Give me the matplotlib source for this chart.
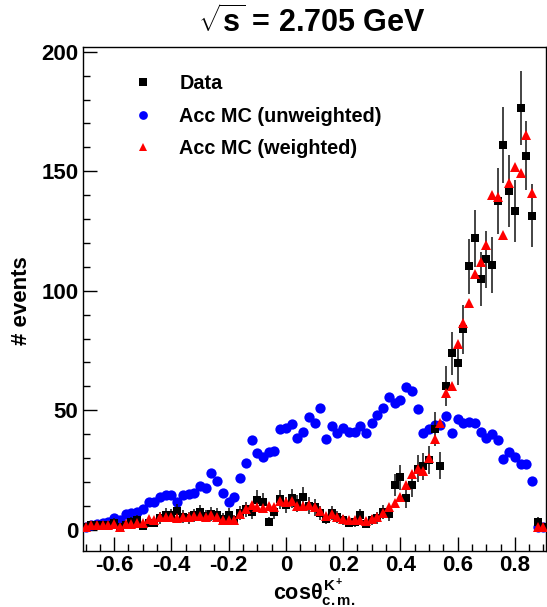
import numpy as np
import matplotlib
matplotlib.use('Agg')
import matplotlib.pyplot as plt
from matplotlib.ticker import FixedLocator, FixedFormatter, MultipleLocator

plt.rcParams['font.family'] = ['Liberation Sans', 'DejaVu Sans']
plt.rcParams['font.weight'] = 'bold'
plt.rcParams['axes.unicode_minus'] = False
plt.rcParams['mathtext.fontset'] = 'custom'
plt.rcParams['mathtext.rm'] = 'Liberation Sans:bold'
plt.rcParams['mathtext.bf'] = 'Liberation Sans:bold'
plt.rcParams['mathtext.it'] = 'Liberation Sans:bold'
plt.rcParams['mathtext.sf'] = 'Liberation Sans:bold'

# ---------------- data ----------------
bin_start = -0.70
bin_width = 0.02

data_counts = [1.0, 2.0, 2.0, 2.0, 2.0, 3.0, 1.0, 2.0, 3.4, 4.1,
               1.5, 2.9, 2.9, 4.8, 6.2, 6.1, 7.8, 5.5, 5.0, 6.0,
               7.5, 5.8, 6.5, 6.2, 4.5, 6.2, 4.0, 7.1, 8.5, 7.5,
               12.5, 11.5, 3.4, 7.3, 12.7, 10.3, 13.1, 11.0, 13.6, 10.1,
               9.3, 6.8, 4.6, 6.8, 5.4, 4.1, 2.9, 3.2, 6.0, 2.5,
               4.0, 4.8, 7.5, 6.4, 18.7, 21.9, 13.1, 18.5, 25.5, 26.5,
               29.0, 42.2, 26.7, 60.1, 73.8, 69.6, 83.8, 110.3, 121.9, 104.9,
               113.1, 110.8, 137.7, 161.0, 141.8, 133.5, 176.6, 156.5, 131.4, 3.3,
               1.0]

data_errors = [1.2, 1.6, 1.6, 1.6, 1.6, 1.9, 1.2, 1.6, 2.0, 2.2,
               1.4, 1.9, 1.9, 2.4, 2.7, 2.7, 3.1, 2.6, 2.5, 2.7,
               3.0, 2.6, 2.8, 2.7, 2.3, 2.7, 2.2, 2.9, 3.2, 3.0,
               3.9, 3.7, 2.0, 3.0, 3.9, 3.5, 4.0, 3.6, 4.1, 3.5,
               3.4, 2.9, 2.4, 2.9, 2.6, 2.2, 1.9, 2.0, 2.7, 1.7,
               2.2, 2.4, 3.0, 2.8, 4.8, 5.1, 4.0, 4.7, 5.6, 5.7,
               5.9, 7.1, 5.7, 8.5, 9.0, 9.2, 10.1, 11.5, 12.0, 11.3,
               11.8, 11.8, 13.8, 16.0, 15.0, 13.0, 15.5, 14.5, 13.3, 2.0,
               1.1]

mc_unweighted = [1.3, 2.0, 2.4, 2.9, 3.4, 5.0, 4.1, 6.4, 7.1, 7.5,
                 8.7, 11.4, 11.6, 13.8, 14.5, 14.7, 11.6, 14.5, 14.9, 15.3,
                 18.3, 17.3, 23.9, 20.5, 15.2, 11.5, 13.6, 21.5, 27.8, 37.5,
                 32.1, 30.3, 32.6, 33.1, 42.0, 42.7, 44.3, 38.2, 41.0, 47.3,
                 44.5, 50.8, 38.1, 43.4, 40.3, 42.4, 41.0, 41.0, 43.2, 40.6,
                 44.5, 48.0, 50.8, 55.4, 52.9, 54.3, 59.6, 58.2, 50.4, 40.6,
                 42.0, 43.8, 43.8, 47.6, 40.6, 46.2, 44.8, 45.2, 44.5, 41.0,
                 38.2, 40.0, 37.5, 29.6, 32.6, 30.5, 27.5, 27.5, 20.4, 1.3,
                 1.0]

mc_weighted = [1.3, 2.0, 2.0, 2.0, 2.0, 2.4, 1.3, 2.4, 2.4, 2.7,
               2.9, 4.3, 4.1, 5.4, 5.2, 5.3, 4.9, 5.3, 5.4, 5.6,
               5.7, 5.4, 6.2, 5.5, 4.2, 4.1, 4.2, 6.5, 8.6, 10.5,
               9.4, 9.0, 9.9, 9.6, 12.1, 11.5, 12.0, 9.8, 9.7, 10.5,
               9.3, 8.0, 5.6, 6.4, 5.5, 4.6, 4.2, 4.0, 4.2, 3.5,
               4.3, 5.4, 7.0, 9.6, 11.0, 13.8, 18.7, 23.3, 25.2, 24.7,
               30.2, 37.8, 44.5, 57.0, 60.1, 77.7, 86.3, 94.7, 107.0, 112.1,
               119.1, 140.0, 139.1, 123.3, 144.9, 151.9, 149.4, 165.0, 140.8, 1.3,
               1.3]

x_tick_values = [-0.6, -0.4, -0.2, 0.0, 0.2, 0.4, 0.6, 0.8]
x_tick_labels = ['-0.6', '-0.4', '-0.2', '0', '0.2', '0.4', '0.6', '0.8']
y_tick_values = [0, 50, 100, 150, 200]
y_tick_labels = ['0', '50', '100', '150', '200']

legend_labels = ['Data', 'Acc MC (unweighted)', 'Acc MC (weighted)']
title_text = r'$\sqrt{s}$ = 2.705 GeV'

x = bin_start + bin_width * np.arange(len(data_counts))

# ---------------- figure ----------------
W, H = 547, 607
fig = plt.figure(figsize=(W / 100, H / 100), dpi=100)
fig.patch.set_facecolor('white')
ax = fig.add_axes([82.7 / W, 1 - 550.7 / H, (545.5 - 82.7) / W, (550.7 - 47.0) / H])

h_blue, = ax.plot(x, mc_unweighted, 'o', color='#0000ff', ms=7.4, mew=0, zorder=2)
ax.errorbar(x, data_counts, yerr=data_errors, fmt='none', ecolor='#111111',
            elinewidth=1.1, capsize=0, zorder=3)
h_data, = ax.plot(x, data_counts, 's', color='black', ms=6.0, mew=0, zorder=4)
h_red, = ax.plot(x, mc_weighted, '^', color='#ff0000', ms=6.6, mew=0, zorder=5)

ax.set_xlim(-0.71, 0.907)
ax.set_ylim(-8.8, 202)

ax.xaxis.set_major_locator(FixedLocator(x_tick_values))
ax.xaxis.set_major_formatter(FixedFormatter(x_tick_labels))
ax.xaxis.set_minor_locator(MultipleLocator(0.05))
ax.yaxis.set_major_locator(FixedLocator(y_tick_values))
ax.yaxis.set_major_formatter(FixedFormatter(y_tick_labels))
ax.yaxis.set_minor_locator(MultipleLocator(10))

ax.tick_params(which='both', direction='in', top=False, right=False, width=1.0)
ax.tick_params(which='major', length=10)
ax.tick_params(which='minor', length=4.8)
ax.tick_params(axis='x', which='major', labelsize=16, pad=3)
ax.tick_params(axis='y', which='major', labelsize=16, pad=3)
for lab in ax.get_xticklabels() + ax.get_yticklabels():
    lab.set_fontweight('bold')
for sp in ax.spines.values():
    sp.set_linewidth(1.0)

leg = ax.legend([h_data, h_blue, h_red], legend_labels,
                loc='upper left', bbox_to_anchor=(135.5 / W, 1 - 74.0 / H),
                bbox_transform=fig.transFigure, frameon=False,
                fontsize=14.3, borderpad=0, borderaxespad=0,
                handlelength=0.75, handletextpad=1.45, labelspacing=0.68,
                markerscale=0.85, numpoints=1)
for t in leg.get_texts():
    t.set_fontweight('bold')

fig.text(312 / W, 1 - 22 / H, title_text, ha='center', va='center',
         fontsize=22, fontweight='bold')
fig.text(22 / W, 1 - 301 / H, '# events', rotation=90, ha='center', va='center',
         fontsize=16, fontweight='bold')
fig.text(314 / W, 1 - 599 / H, r'$\mathrm{cos}\theta^{K^{+}}_{c.m.}$',
         ha='center', va='baseline', fontsize=15.5, fontweight='bold')

fig.savefig('out.png', dpi=100)
